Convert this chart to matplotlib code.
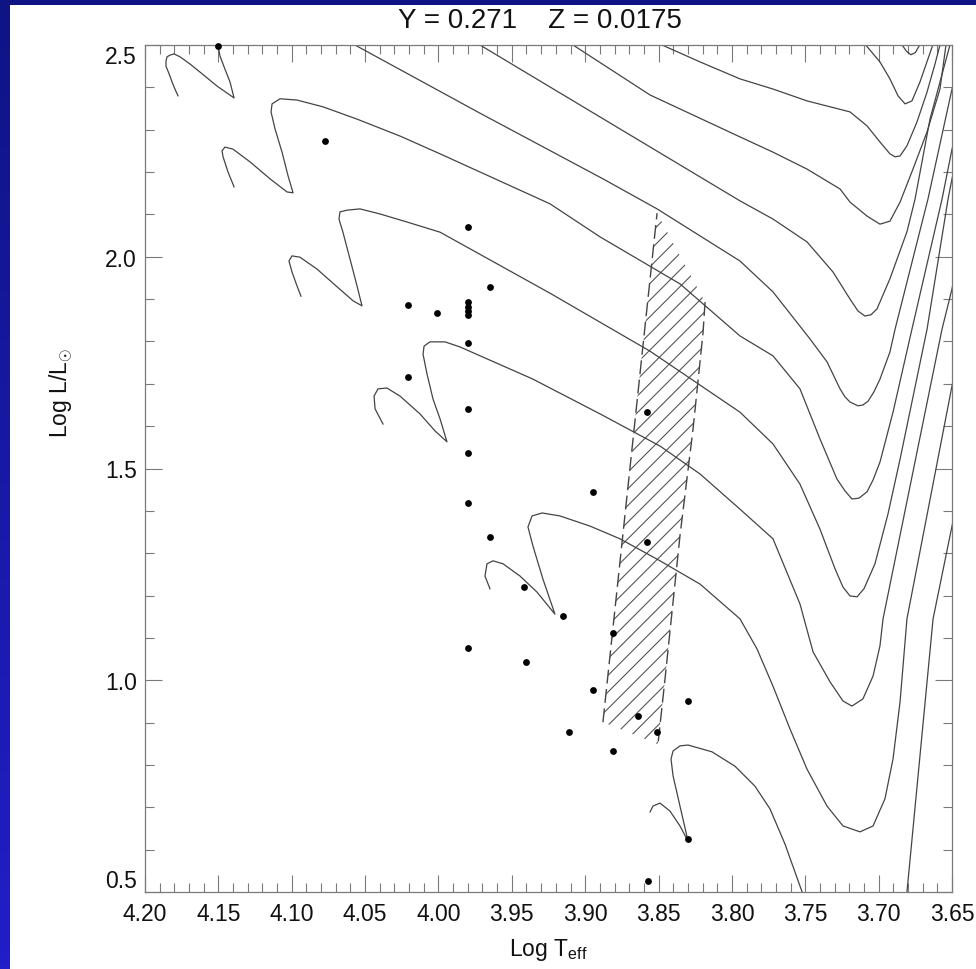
import matplotlib
matplotlib.use("Agg")
import matplotlib.pyplot as plt
import numpy as np
from matplotlib.patches import Polygon, Rectangle
from matplotlib.ticker import MultipleLocator, FormatStrFormatter

TITLE = "Y = 0.271    Z = 0.0175"
X_LABEL = r"Log T$_{\rm eff}$"
Y_LABEL = r"Log L/L$_{\odot}$"

X_TICKS = [4.20, 4.15, 4.10, 4.05, 4.00, 3.95, 3.90, 3.85, 3.80, 3.75, 3.70, 3.65]
Y_TICKS = [0.5, 1.0, 1.5, 2.0, 2.5]

# evolutionary tracks (log Teff, log L/Lsun)
U_TEFF = [3.692, 3.684, 3.681, 3.678, 3.675, 3.672, 3.668]
U_LUM = [2.56, 2.50, 2.485, 2.477, 2.482, 2.50, 2.56]

A_TEFF = [3.725, 3.7093, 3.6991, 3.6923, 3.6868, 3.6820, 3.6773, 3.6718, 3.6664, 3.6629, 3.660]
A_LUM = [2.54, 2.502, 2.460, 2.420, 2.380, 2.361, 2.368, 2.413, 2.467, 2.502, 2.53]

B_TEFF = [3.865, 3.8476, 3.8217, 3.7945, 3.7720, 3.7488, 3.7195, 3.7079, 3.6991, 3.6923,
          3.6888, 3.6854, 3.6807, 3.6739, 3.6670, 3.6616, 3.6582, 3.656]
B_LUM = [2.527, 2.500, 2.460, 2.420, 2.396, 2.368, 2.342, 2.309, 2.271, 2.243,
         2.236, 2.238, 2.262, 2.318, 2.389, 2.455, 2.500, 2.53]

C_TEFF = [3.925, 3.9083, 3.8558, 3.7945, 3.7720, 3.7488, 3.7263, 3.7195, 3.7079, 3.6991,
          3.6923, 3.6854, 3.6766, 3.6670, 3.6582, 3.6541, 3.652]
C_LUM = [2.537, 2.500, 2.382, 2.283, 2.247, 2.207, 2.160, 2.129, 2.096, 2.077,
         2.084, 2.129, 2.207, 2.295, 2.396, 2.500, 2.54]

D_TEFF = [3.99, 3.9717, 3.8831, 3.7945, 3.7720, 3.7488, 3.7311, 3.7195, 3.7141, 3.7093,
          3.7052, 3.7011, 3.6923, 3.6807, 3.6752, 3.6650, 3.6514, 3.649]
D_LUM = [2.538, 2.500, 2.316, 2.132, 2.089, 2.035, 1.964, 1.900, 1.872, 1.860,
         1.863, 1.877, 1.948, 2.059, 2.136, 2.325, 2.500, 2.55]

E_TEFF = [4.1775, 4.1796, 4.1816, 4.1836, 4.1857, 4.1857, 4.1850, 4.1830, 4.1802, 4.1761,
          4.1693, 4.1625, 4.1509, 4.1393, 4.1421, 4.1455, 4.1489, 4.1502, 4.1523, 4.1475,
          4.1353, 4.1080, 4.0807, 4.0569, 3.9717, 3.8879, 3.8510, 3.7945, 3.7720, 3.7468,
          3.7352, 3.7263, 3.7229, 3.7195, 3.7141, 3.7107, 3.7072, 3.7032, 3.6991, 3.6923,
          3.6888, 3.6664, 3.65, 3.645]
E_LUM = [2.380, 2.396, 2.413, 2.432, 2.450, 2.462, 2.472, 2.476, 2.479, 2.472,
         2.455, 2.436, 2.403, 2.375, 2.413, 2.443, 2.474, 2.498, 2.526, 2.557,
         2.580, 2.585, 2.550, 2.500, 2.339, 2.184, 2.113, 1.990, 1.917, 1.806,
         1.752, 1.688, 1.669, 1.657, 1.648, 1.650, 1.659, 1.681, 1.711, 1.775,
         1.829, 2.136, 2.396, 2.43]

H2_TEFF = [4.1393, 4.1434, 4.1468, 4.1475, 4.1455, 4.1400, 4.1284, 4.1148, 4.1032, 4.0991,
           4.1025, 4.1066, 4.1114, 4.1141, 4.1134, 4.1080, 4.0964, 4.0787, 4.0555, 4.0262,
           3.9989, 3.9240, 3.8899, 3.8354, 3.7945, 3.7720, 3.7536, 3.7400, 3.7284, 3.7229,
           3.7182, 3.7134, 3.7079, 3.7038, 3.6991, 3.6902, 3.6773, 3.6568, 3.65, 3.646]
H2_LUM = [2.165, 2.200, 2.236, 2.250, 2.259, 2.254, 2.224, 2.184, 2.153, 2.151,
          2.191, 2.247, 2.302, 2.342, 2.361, 2.373, 2.370, 2.354, 2.325, 2.285,
          2.243, 2.125, 2.047, 1.936, 1.813, 1.766, 1.688, 1.570, 1.475, 1.447,
          1.428, 1.430, 1.445, 1.473, 1.515, 1.633, 1.829, 2.136, 2.254, 2.30]

H3_TEFF = [4.0937, 4.0964, 4.0998, 4.1019, 4.0998, 4.0944, 4.0828, 4.0691, 4.0582, 4.0521,
           4.0555, 4.0603, 4.0651, 4.0678, 4.0671, 4.0623, 4.0535, 4.0398, 4.0214, 3.9989,
           3.9240, 3.8558, 3.7945, 3.7720, 3.7536, 3.7400, 3.7297, 3.7243, 3.7195, 3.7147,
           3.7100, 3.7025, 3.6936, 3.6854, 3.6670, 3.6527, 3.65, 3.646]
H3_LUM = [1.907, 1.931, 1.964, 1.990, 2.002, 1.999, 1.971, 1.929, 1.896, 1.884,
          1.931, 1.995, 2.058, 2.089, 2.106, 2.110, 2.113, 2.101, 2.082, 2.058,
          1.914, 1.777, 1.633, 1.558, 1.463, 1.357, 1.263, 1.220, 1.199, 1.197,
          1.216, 1.275, 1.393, 1.522, 1.829, 2.136, 2.184, 2.25]

H4_TEFF = [4.0378, 4.0432, 4.0439, 4.0412, 4.0351, 4.0262, 4.0126, 4.0024, 3.9942, 3.9989,
           4.0037, 4.0078, 4.0105, 4.0098, 4.0058, 3.9955, 3.9853, 3.9356, 3.8899, 3.8490,
           3.8217, 3.7945, 3.7720, 3.7536, 3.7447, 3.7331, 3.7243, 3.7182, 3.7107, 3.7038,
           3.6991, 3.6970, 3.6568, 3.65, 3.646]
H4_LUM = [1.605, 1.641, 1.671, 1.688, 1.690, 1.671, 1.629, 1.589, 1.563, 1.617,
          1.664, 1.723, 1.770, 1.789, 1.799, 1.799, 1.787, 1.711, 1.629, 1.553,
          1.487, 1.404, 1.334, 1.180, 1.067, 0.996, 0.951, 0.939, 0.956, 1.010,
          1.081, 1.145, 1.829, 1.924, 2.0]

H5_TEFF = [3.9649, 3.9683, 3.9669, 3.9628, 3.9560, 3.9444, 3.9328, 3.9206, 3.9288, 3.9356,
           3.9390, 3.9362, 3.9294, 3.9172, 3.8967, 3.8763, 3.8490, 3.8217, 3.7945, 3.7829,
           3.7720, 3.7604, 3.7488, 3.7352, 3.7243, 3.7127, 3.7038, 3.6957, 3.6902, 3.6854,
           3.6807, 3.65, 3.646]
H5_LUM = [1.216, 1.246, 1.275, 1.282, 1.275, 1.246, 1.208, 1.156, 1.239, 1.317,
          1.362, 1.388, 1.395, 1.388, 1.364, 1.334, 1.282, 1.227, 1.145, 1.074,
          0.986, 0.885, 0.790, 0.703, 0.656, 0.642, 0.656, 0.720, 0.814, 0.949,
          1.145, 1.695, 1.76]

H6_TEFF = [3.8558, 3.8538, 3.8490, 3.8422, 3.8354, 3.8299, 3.8354, 3.8401, 3.8415, 3.8401,
           3.8354, 3.8299, 3.8136, 3.7979, 3.7843, 3.7740, 3.7638, 3.7536, 3.7480, 3.735,
           3.72, 3.703, 3.690, 3.6807, 3.6629, 3.65, 3.646]
H6_LUM = [0.689, 0.703, 0.710, 0.691, 0.656, 0.620, 0.703, 0.774, 0.814, 0.833,
          0.845, 0.847, 0.831, 0.797, 0.750, 0.696, 0.613, 0.514, 0.46, 0.40,
          0.38, 0.40, 0.44, 0.50, 1.145, 1.364, 1.43]

# instability strip outline
STRIP_TEFF = [3.851, 3.8183, 3.8197, 3.8265, 3.8354, 3.8456, 3.8504, 3.8879]
STRIP_LUM = [2.103, 1.893, 1.820, 1.593, 1.341, 1.003, 0.849, 0.901]

# observed stars
STAR_TEFF = [4.150, 4.077, 3.980, 3.965, 4.021, 4.001, 3.980, 3.980, 3.980, 3.980,
             3.980, 4.021, 3.980, 3.980, 3.980, 3.965, 3.942, 3.915, 3.980, 3.940,
             3.895, 3.858, 3.858, 3.881, 3.895, 3.864, 3.851, 3.911, 3.881, 3.830,
             3.830, 3.857]
STAR_LUM = [2.498, 2.273, 2.070, 1.928, 1.886, 1.867, 1.893, 1.882, 1.872, 1.862,
            1.796, 1.716, 1.640, 1.537, 1.419, 1.338, 1.220, 1.152, 1.076, 1.043,
            1.445, 1.633, 1.326, 1.112, 0.977, 0.916, 0.878, 0.878, 0.833, 0.951,
            0.625, 0.526]

TRACKS = [
    (U_TEFF, U_LUM), (A_TEFF, A_LUM), (B_TEFF, B_LUM), (C_TEFF, C_LUM),
    (D_TEFF, D_LUM), (E_TEFF, E_LUM), (H2_TEFF, H2_LUM), (H3_TEFF, H3_LUM),
    (H4_TEFF, H4_LUM), (H5_TEFF, H5_LUM), (H6_TEFF, H6_LUM),
]

LINE_COLOR = "#444444"
AXIS_COLOR = "#7a7a7a"
TEXT_COLOR = "#111111"


def draw_background(fig):
    bg = fig.add_axes([0, 0, 1, 1])
    bg.set_axis_off()
    top = np.array([14, 20, 132]) / 255.0
    bottom = np.array([34, 30, 200]) / 255.0
    t = np.linspace(0, 1, 256)[:, None]
    grad = top * (1 - t) + bottom * t
    bg.imshow(grad[:, None, :].repeat(2, axis=1), extent=[0, 1, 0, 1],
              aspect="auto", origin="upper")
    bg.add_patch(Rectangle((10 / 976, 0), 1, 1 - 6 / 970, transform=bg.transAxes,
                           facecolor="white", edgecolor="none"))
    bg.set_xlim(0, 1)
    bg.set_ylim(0, 1)


def main():
    plt.rcParams["font.family"] = ["Liberation Sans", "DejaVu Sans"]
    plt.rcParams["mathtext.fontset"] = "custom"
    plt.rcParams["mathtext.rm"] = "Liberation Sans"
    plt.rcParams["hatch.linewidth"] = 0.8
    plt.rcParams["hatch.color"] = "#555555"

    fig = plt.figure(figsize=(9.76, 9.70), dpi=100)
    draw_background(fig)

    ax = fig.add_axes([145 / 976, 77 / 970, 807 / 976, 847 / 970])
    ax.set_facecolor("white")

    for teff, lum in TRACKS:
        ax.plot(teff, lum, color=LINE_COLOR, lw=0.9, solid_joinstyle="round")

    strip = list(zip(STRIP_TEFF, STRIP_LUM))
    ax.add_patch(Polygon(strip, closed=True, facecolor="none", edgecolor="#555555",
                         hatch="//", lw=0))
    left_edge_t = [STRIP_TEFF[-1], STRIP_TEFF[0]]
    left_edge_l = [STRIP_LUM[-1], STRIP_LUM[0]]
    ax.plot(left_edge_t, left_edge_l, color="#444444", lw=1.0, ls=(0, (10, 4)))
    ax.plot(STRIP_TEFF[1:7], STRIP_LUM[1:7], color="#444444", lw=1.0, ls=(0, (10, 4)))

    ax.scatter(STAR_TEFF, STAR_LUM, s=24, color="black", zorder=5, clip_on=False,
               linewidths=0)

    ax.set_xlim(4.20, 3.65)
    ax.set_ylim(0.5, 2.5)
    ax.set_xticks(X_TICKS)
    ax.set_yticks(Y_TICKS)
    ax.xaxis.set_minor_locator(MultipleLocator(0.01))
    ax.yaxis.set_minor_locator(MultipleLocator(0.1))
    ax.xaxis.set_major_formatter(FormatStrFormatter("%.2f"))
    ax.yaxis.set_major_formatter(FormatStrFormatter("%.1f"))
    ax.tick_params(which="both", direction="in", top=True, right=True,
                   color=AXIS_COLOR, labelsize=16.5, labelcolor=TEXT_COLOR)
    ax.tick_params(which="major", length=12.5, width=0.8)
    ax.tick_params(axis="x", which="major", pad=7)
    ax.tick_params(axis="y", which="major", pad=6)
    ax.tick_params(which="minor", length=6.5, width=0.8)
    for sp in ax.spines.values():
        sp.set_color(AXIS_COLOR)
        sp.set_linewidth(0.9)

    ylabels = ax.get_yticklabels()
    ylabels[0].set_verticalalignment("bottom")
    ylabels[-1].set_verticalalignment("top")

    ax.set_xlabel(X_LABEL, fontsize=16.5, color=TEXT_COLOR, labelpad=8)
    ax.set_ylabel(Y_LABEL, fontsize=16.5, color=TEXT_COLOR)
    ax.yaxis.set_label_coords(-0.087, 0.59)
    fig.text(540 / 976, 1 - 21 / 970, TITLE, ha="center", va="center",
             fontsize=20, color=TEXT_COLOR)

    fig.savefig("out.png", dpi=100)
    plt.close(fig)


if __name__ == "__main__":
    main()
